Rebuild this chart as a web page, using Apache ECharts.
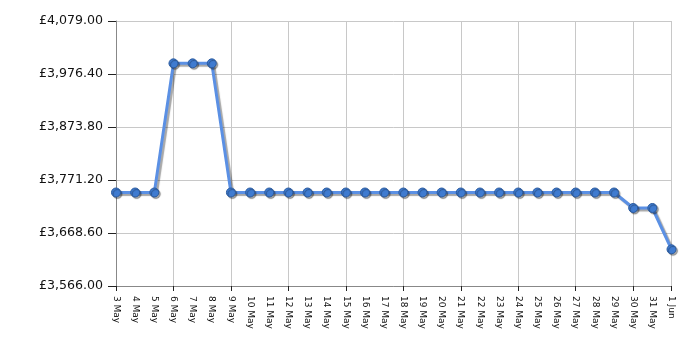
<!DOCTYPE html>
<html><head><meta charset="utf-8">
<script src="https://cdn.jsdelivr.net/npm/echarts@6/dist/echarts.min.js"></script>
<style>html,body{margin:0;padding:0;background:#fff}#c{width:700px;height:350px}</style>
</head><body><div id="c"></div>
<script>
const categories = ['3 May','4 May','5 May','6 May','7 May','8 May','9 May','10 May','11 May','12 May','13 May','14 May','15 May','16 May','17 May','18 May','19 May','20 May','21 May','22 May','23 May','24 May','25 May','26 May','27 May','28 May','29 May','30 May','31 May','1 Jun'];
const prices = [3747,3747,3747,3997,3997,3997,3747,3747,3747,3747,3747,3747,3747,3747,3747,3747,3747,3747,3747,3747,3747,3747,3747,3747,3747,3747,3747,3717,3717,3637];
const yMin = 3566, yMax = 4079, yStep = 102.6;

const chart = echarts.init(document.getElementById('c'), null, {renderer:'canvas'});
chart.setOption({
  animation:false,
  grid:{left:116,right:28.5,top:21,bottom:64,containLabel:false},
  xAxis:{
    type:'category', data:categories, boundaryGap:false,
    axisLine:{lineStyle:{color:'#888',width:1}},
    axisTick:{show:true,interval:2,length:5,lineStyle:{color:'#222'}},
    axisLabel:{interval:0,rotate:-90,fontFamily:'DejaVu Sans',fontSize:9,color:'#111',margin:10},
    splitLine:{show:true,interval:2,lineStyle:{color:'#c8c8c8',width:1}}
  },
  yAxis:{
    type:'value', min:yMin, max:yMax, interval:yStep,
    axisLine:{show:true,lineStyle:{color:'#888',width:1}},
    axisTick:{show:true,length:8,lineStyle:{color:'#222'}},
    axisLabel:{fontFamily:'DejaVu Sans',fontSize:12.6,color:'#111',margin:13,verticalAlign:'middle',
      formatter:v=>'£'+v.toLocaleString('en-GB',{minimumFractionDigits:2,maximumFractionDigits:2})},
    splitLine:{show:true,lineStyle:{color:'#c8c8c8',width:1}}
  },
  series:[{
    type:'line', data:prices, symbol:'circle', symbolSize:9,
    lineStyle:{color:'#5b90e4',width:3,shadowColor:'rgba(0,0,0,0.35)',shadowBlur:1,shadowOffsetX:2,shadowOffsetY:2},
    itemStyle:{color:'#3f7bd0',borderColor:'#2a5a9e',borderWidth:1,shadowColor:'rgba(0,0,0,0.35)',shadowBlur:1,shadowOffsetX:1.5,shadowOffsetY:1.5}
  }]
});
</script></body></html>
